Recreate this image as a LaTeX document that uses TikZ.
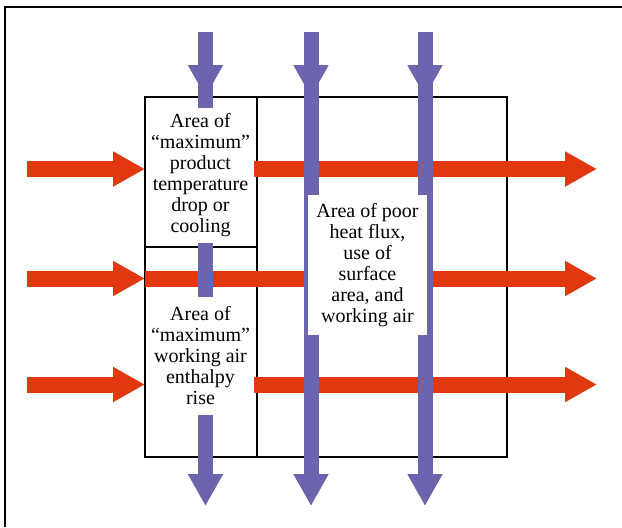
\documentclass[tikz,border=0pt]{standalone}
\usepackage{fontspec}
\setmainfont{Liberation Serif}
\usetikzlibrary{arrows.meta, positioning}
\definecolor{cred}{HTML}{E2380F}
\definecolor{cviolet}{HTML}{6B64AE}
\tikzset{
  every picture/.style={line width=1.2pt},
  redarrow/.style={-{Triangle[length=16pt, width=16.5pt]}, draw=cred, line width=8pt},
  bluearrow/.style={-{Triangle[length=16pt, width=16.5pt]}, draw=cviolet, line width=7.5pt},
  area/.style={fill=white, inner sep=0pt, align=center, font=\fontsize{10pt}{10.5pt}\selectfont},
}

\begin{document}
\begin{tikzpicture}[x=0.5pt, y=-0.5pt]
  \useasboundingbox (0,0) rectangle (622,527);
  % frame
  \draw (5,527) -- (5,7) -- (622,7);
  % cooler box
  \draw (145,97) rectangle (507,457);
  \draw (257,97) -- (257,457);
  \draw (145,247) -- (257,247);
  % product arrows
  \foreach \y [count=\i] in {169,278.5,384.5} {
    \coordinate (in\i) at (27,\y);
    \coordinate (edge\i) at (145,\y);
    \coordinate (mid\i) at (254,\y);
    \coordinate (out\i) at (597,\y);
    \draw[redarrow] (in\i) -- (edge\i);
  }
  \draw[redarrow] (mid1) -- (out1);
  \draw[redarrow] (edge2) -- (out2);
  \draw[redarrow] (mid3) -- (out3);
  % working air arrows
  \foreach \x [count=\j] in {205.5,311,425} {
    \coordinate (top\j) at (\x,32);
    \coordinate (tip\j) at (\x,97);
    \coordinate (bot\j) at (\x,506);
    \draw[bluearrow] (top\j) -- (tip\j);
    \draw[bluearrow] (top\j) -- (bot\j);
  }
  % areas
  \node[area, minimum width=53.5pt, minimum height=67.5pt] (cooling) at (200.5,175.5)
    {Area of\\“maximum”\\product\\temperature\\drop or\\cooling};
  \node[area, minimum width=53.5pt, minimum height=59pt] (enthalpy) at (200.5,356)
    {Area of\\“maximum”\\working air\\enthalpy\\rise};
  \node[area, minimum width=59.5pt, minimum height=70pt] (poorflux) at (367.5,265)
    {Area of poor\\heat flux,\\use of\\surface\\area, and\\working air};
\end{tikzpicture}
\end{document}
